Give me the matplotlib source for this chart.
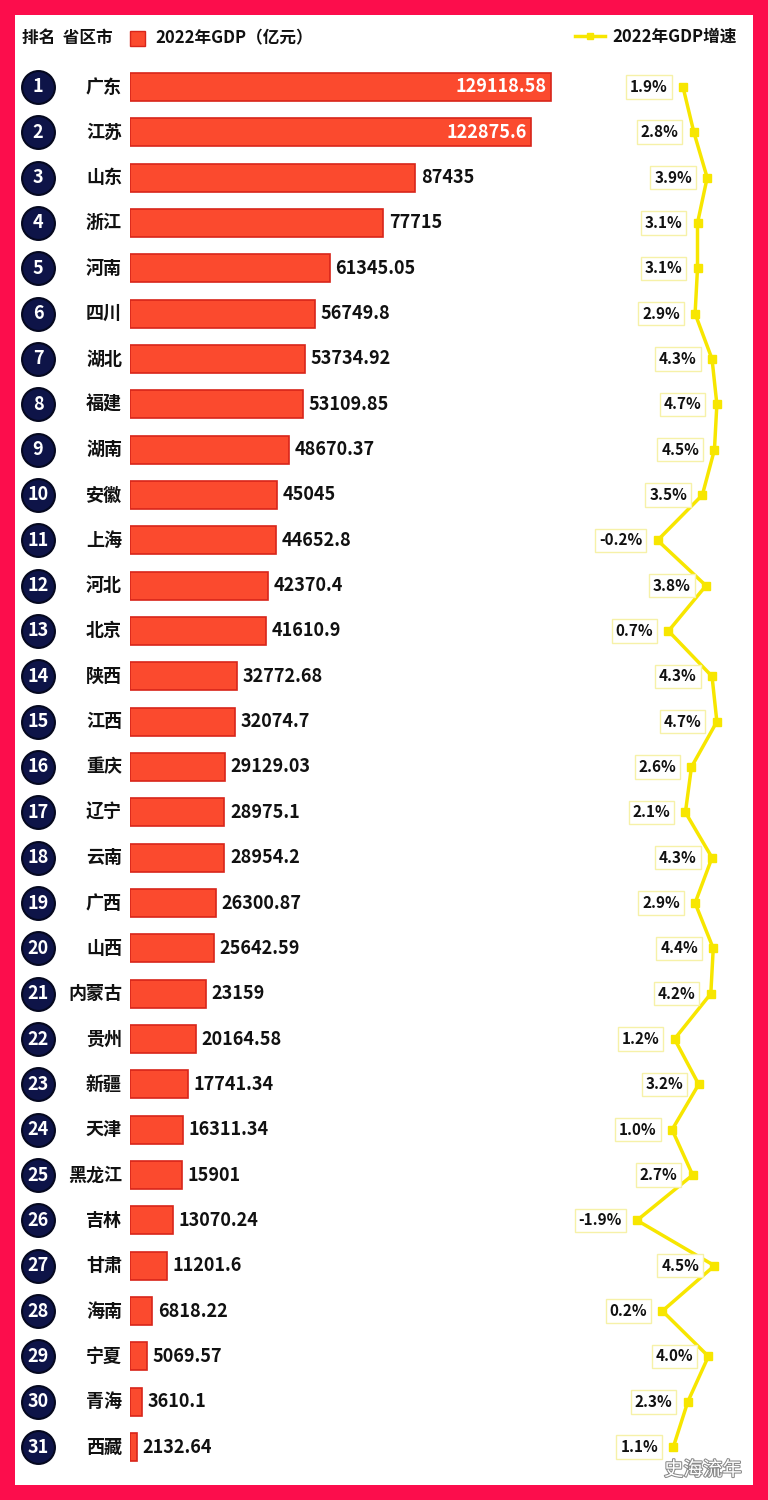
import matplotlib.pyplot as plt
import matplotlib.transforms as mtransforms
import matplotlib.patheffects as pe
from matplotlib.patches import Rectangle

plt.rcParams['font.family'] = ['Noto Sans CJK SC', 'DejaVu Sans']

provinces = ['广东', '江苏', '山东', '浙江', '河南', '四川', '湖北', '福建', '湖南', '安徽',
             '上海', '河北', '北京', '陕西', '江西', '重庆', '辽宁', '云南', '广西', '山西',
             '内蒙古', '贵州', '新疆', '天津', '黑龙江', '吉林', '甘肃', '海南', '宁夏', '青海', '西藏']
gdp = [129118.58, 122875.6, 87435, 77715, 61345.05, 56749.8, 53734.92, 53109.85, 48670.37, 45045,
       44652.8, 42370.4, 41610.9, 32772.68, 32074.7, 29129.03, 28975.1, 28954.2, 26300.87, 25642.59,
       23159, 20164.58, 17741.34, 16311.34, 15901, 13070.24, 11201.6, 6818.22, 5069.57, 3610.1, 2132.64]
growth = [1.9, 2.8, 3.9, 3.1, 3.1, 2.9, 4.3, 4.7, 4.5, 3.5,
          -0.2, 3.8, 0.7, 4.3, 4.7, 2.6, 2.1, 4.3, 2.9, 4.4,
          4.2, 1.2, 3.2, 1.0, 2.7, -1.9, 4.5, 0.2, 4.0, 2.3, 1.1]
ranks = list(range(1, len(provinces) + 1))

W, H = 768, 1500
fig = plt.figure(figsize=(W / 100, H / 100), dpi=100)
fig.patch.set_facecolor('#fc0d4c')
fig.patches.append(Rectangle((15 / W, 1 - 1485 / H), 738 / W, 1470 / H,
                             transform=fig.transFigure, fc='white', ec='none', zorder=-5))


def px(x, y):
    return x / W, 1 - y / H


# bar axes: pixel 130..753 horizontally, 64..1470 vertically
l, b = px(130, 1470)
ax = fig.add_axes([l, b, 623 / W, 1406 / H])
ax.set_xlim(0, 191070)
ax.set_ylim(31.507, 0.493)
ax.axis('off')

ax.barh(ranks, gdp, height=0.62, color='#fb4a2e', edgecolor='#d8251a', linewidth=1.2)
for r, v in zip(ranks, gdp):
    s = '{:.2f}'.format(v).rstrip('0').rstrip('.')
    if r <= 2:
        ax.annotate(s, (v, r), xytext=(-3, 0), textcoords='offset points', ha='right', va='center',
                    color='white', fontsize=13, fontweight='bold')
    else:
        ax.annotate(s, (v, r), xytext=(4, 0), textcoords='offset points', ha='left', va='center',
                    color='#111111', fontsize=13, fontweight='bold')

# rank circles and names
blend = mtransforms.blended_transform_factory(fig.transFigure, ax.transData)
ax.scatter([38 / W] * len(ranks), ranks, s=560, color='#0e1448', edgecolor='#05081f',
           linewidth=1.5, transform=blend, clip_on=False, zorder=3)
for r, name in zip(ranks, provinces):
    ax.text(38 / W, r, str(r), transform=blend, ha='center', va='center', color='white',
            fontsize=13, fontweight='bold', zorder=4)
    ax.text(122 / W, r, name, transform=blend, ha='right', va='center', color='#111111',
            fontsize=13, fontweight='bold')

# growth line
ax2 = ax.twiny()
ax2.set_xlim((130 - 660) / 12.1, (753 - 660) / 12.1)
ax2.set_ylim(31.507, 0.493)
ax2.axis('off')
ax2.plot(growth, ranks, color='#f7e600', linewidth=2.5, marker='s', markersize=6,
         markerfacecolor='#f7e600', markeredgecolor='#f7e600', zorder=3)
for r, g in zip(ranks, growth):
    ax2.annotate('{:.1f}%'.format(g), (g, r), xytext=(-11, 0), textcoords='offset points',
                 ha='right', va='center', color='#111111', fontsize=11, fontweight='bold',
                 bbox=dict(boxstyle='square,pad=0.25', fc='white', ec='#f6f1a8', lw=1))

# header
fig.text(*px(22, 38), '排名  省区市', ha='left', va='center', fontsize=12, fontweight='bold', color='#111111')
fig.patches.append(Rectangle(px(130, 46), 15 / W, 15 / H, transform=fig.transFigure,
                             fc='#fb4a2e', ec='#d8251a', lw=1))
fig.text(*px(155, 38), '2022年GDP（亿元）', ha='left', va='center', fontsize=12, fontweight='bold',
         color='#111111')
fig.lines.append(plt.Line2D([575 / W, 605 / W], [1 - 36 / H, 1 - 36 / H], transform=fig.transFigure,
                            color='#f7e600', linewidth=2.5))
fig.lines.append(plt.Line2D([590 / W], [1 - 36 / H], transform=fig.transFigure,
                            color='#f7e600', marker='s', markersize=5, linestyle='none'))
fig.text(*px(612, 37), '2022年GDP增速', ha='left', va='center', fontsize=12, fontweight='bold',
         color='#111111')

# watermark
fig.text(*px(703, 1470), '史海流年', ha='center', va='center', fontsize=14, color='white',
         path_effects=[pe.withStroke(linewidth=1.5, foreground='#888888')])

fig.savefig('out.png', dpi=100, facecolor=fig.get_facecolor())
